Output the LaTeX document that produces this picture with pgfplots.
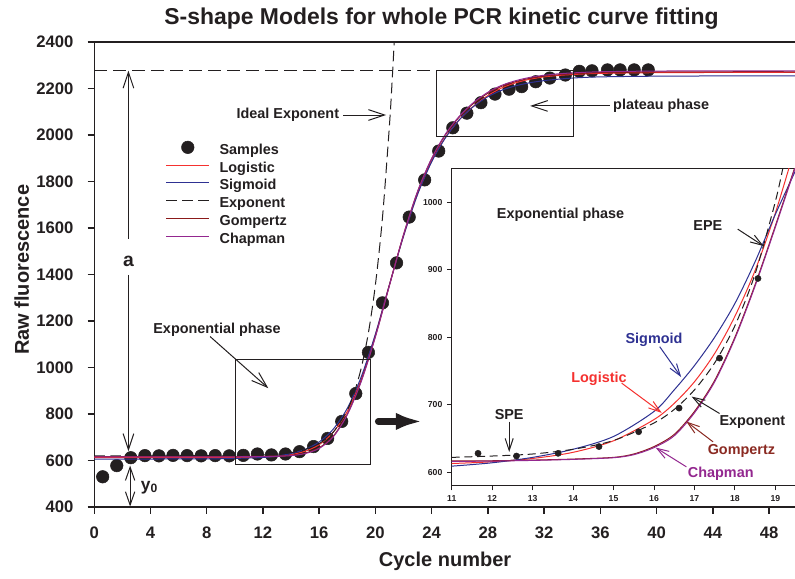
\documentclass[border=0pt]{standalone}
\usepackage{fontspec}
\setmainfont{Liberation Sans}
\usepackage{pgfplots}
\pgfplotsset{compat=1.18}
\usetikzlibrary{arrows.meta}

\definecolor{ink}{HTML}{231F20}
\definecolor{cLog}{HTML}{F5312F}
\definecolor{cSig}{HTML}{2E3192}
\definecolor{cGom}{HTML}{8B1A1A}
\definecolor{cCha}{HTML}{93278F}
\definecolor{tGom}{HTML}{8B2A22}

\tikzset{
  barb/.style={-{Straight Barb[length=12pt,width=8pt]}, line width=0.75pt},
  sbarb/.style={-{Straight Barb[length=9pt,width=6pt]}, line width=0.75pt},
  lab/.style={font=\bfseries\fontsize{10.8}{12}\selectfont, inner sep=0pt},
}

\begin{document}
\begin{tikzpicture}
\useasboundingbox (0,0) rectangle (596.25pt,433.5pt);

% ---- main panel ----
\begin{axis}[
  at={(70.7pt,53.25pt)}, anchor=south west,
  scale only axis, width=527.25pt, height=348.75pt,
  xmin=0, xmax=50, ymin=400, ymax=2400,
  xtick={0,4,...,48}, ytick={400,600,...,2400},
  tick align=outside, tick pos=left, major tick length=5pt,
  every tick/.style={ink, line width=1.1pt},
  axis line style={ink, line width=1.1pt},
  tick label style={font=\bfseries\fontsize{12.5}{14}\selectfont, text=ink},
  xticklabel style={anchor=north, inner sep=0pt, yshift=-10pt},
  yticklabel style={anchor=east, inner sep=0pt, xshift=-10.5pt},
  /pgf/number format/assume math mode=true,
  /pgf/number format/1000 sep={},
  xlabel={Cycle number}, ylabel={Raw fluorescence},
  label style={font=\bfseries\fontsize{15}{17}\selectfont, text=ink},
  xlabel style={at={(axis description cs:0.499,-0.128)}, anchor=base},
  ylabel style={at={(axis description cs:-0.1033,0.51)}, anchor=center},
  title={S-shape Models for whole PCR kinetic curve fitting},
  every axis title/.style={at={(axis description cs:0.494,1.0366)}, anchor=base,
    font=\bfseries\fontsize{17.2}{20}\selectfont, text=ink},
  clip mode=individual,
  legend cell align=left,
  legend style={at={(axis cs:5.08,1975)}, anchor=north west, draw=none, fill=none,
    inner sep=0pt, row sep=0pt, font=\bfseries\fontsize{10.8}{12}\selectfont, text=ink,
    nodes={inner sep=0pt, text height=8.3pt, text depth=5pt},
    /tikz/every odd column/.append style={column sep=7.5pt}},
  legend image code/.code={\draw[mark repeat=2,mark phase=2,#1]
    plot coordinates {(0pt,3.7pt) (16pt,3.7pt) (32pt,3.7pt)};},
]
\addplot[only marks, mark=*, mark size=4.7pt, ink] table {
x y
0.6 530
1.6 578
2.6 612
3.6 621
4.6 620
5.6 622
6.6 621
7.6 620
8.6 621
9.6 620
10.6 622
11.6 628
12.6 624
13.6 628
14.6 638
15.6 660
16.6 695
17.6 768
18.6 888
19.5 1065
20.5 1278
21.5 1450
22.4 1647
23.5 1807
24.5 1931
25.5 2031
26.5 2094
27.5 2139
28.5 2176
29.5 2197
30.4 2208
31.4 2229
32.4 2245
33.5 2258
34.5 2274
35.4 2276
36.5 2280
37.4 2280
38.4 2280
39.4 2280
};
\addlegendentry{Samples}
\addplot[cLog, line width=0.75pt, smooth] table {
x y
0 612
8 612
10 613
12 615
13 618
14 625
15 640
16 668
17 722
18 812
19 952
20 1140
21 1358
22 1568
23 1748
24 1888
25 1992
26 2068
27 2125
28 2170
29 2203
30 2225
31 2240
32 2250
33 2256
34 2260
36 2265
40 2268
45 2269
50 2269
};
\addlegendentry{Logistic}
\addplot[cSig, line width=0.75pt, smooth] table {
x y
0 606
8 607
10 609
12 613
13 619
14 630
15 648
16 680
17 735
18 825
19 962
20 1145
21 1358
22 1565
23 1745
24 1885
25 1990
26 2068
27 2124
28 2165
29 2193
30 2212
31 2225
32 2234
33 2240
34 2245
36 2250
40 2253
45 2254
50 2254
};
\addlegendentry{Sigmoid}
\addplot[ink, line width=0.75pt, dash pattern=on 8pt off 4pt, smooth] table {
x y
0 620
10 621
12 624
13 627
14 634
15 647
16 673
17 722
18 817
18.5 894
19 1001
19.5 1150
20 1358
20.5 1646
21 2047
21.2 2249
21.335 2400
};
\addlegendentry{Exponent}
\addplot[cGom, line width=0.75pt, smooth] table {
x y
0 617
8 617
10 617
12 618
13 619
14 622
15 632
16 655
17 705
18 800
19 945
20 1135
21 1355
22 1572
23 1757
24 1898
25 2003
26 2080
27 2137
28 2180
29 2210
30 2230
31 2244
32 2253
33 2259
34 2263
36 2268
40 2271
45 2272
50 2272
};
\addlegendentry{Gompertz}
\addplot[cCha, line width=0.75pt, smooth] table {
x y
0 616
8 616
10 616
12 617
13 618
14 621
15 630
16 652
17 702
18 797
19 942
20 1133
21 1354
22 1572
23 1758
24 1900
25 2006
26 2083
27 2141
28 2184
29 2214
30 2234
31 2248
32 2257
33 2263
34 2267
36 2272
40 2275
45 2276
50 2276
};
\addlegendentry{Chapman}

% annotations
\draw[ink, line width=0.75pt, dash pattern=on 9.75pt off 4.5pt] (axis cs:0,2277) -- (axis cs:24.37,2277);
\draw[ink, line width=0.75pt] (axis cs:24.37,1993) rectangle (axis cs:34.05,2277);
\draw[barb, ink] (axis cs:36.67,2125) -- (axis cs:31.0,2125);
\node[lab, text=ink, anchor=west] at (axis cs:36.89,2125) {plateau phase};
\node[lab, text=ink, anchor=east] at (axis cs:17.43,2086) {Ideal Exponent};
\draw[barb, ink] (axis cs:17.71,2086) -- (axis cs:20.75,2086);
\draw[barb, ink] (axis cs:2.43,1553) -- (axis cs:2.43,2277);
\draw[barb, ink] (axis cs:2.43,1398) -- (axis cs:2.43,640);
\node[font=\bfseries\fontsize{14.5}{16}\selectfont, text=ink, inner sep=0pt] at (axis cs:2.43,1455) {a};
\draw[ink, line width=0.75pt, {Straight Barb[length=10pt,width=7pt]}-{Straight Barb[length=10pt,width=7pt]}] (axis cs:2.55,578) -- (axis cs:2.55,402);
\node[font=\bfseries\fontsize{13}{15}\selectfont, text=ink, inner sep=0pt, anchor=base west] at (axis cs:3.3,473) {y\textsubscript{0}};
\draw[ink, line width=0.75pt] (axis cs:10.05,584) rectangle (axis cs:19.68,1036);
\node[lab, text=ink] at (axis cs:8.73,1162) {Exponential phase};
\draw[barb, ink] (axis cs:8.24,1133) -- (axis cs:12.38,911);
\draw[ink, line width=5pt, line cap=round, -{Latex[length=20pt,width=13pt]}] (axis cs:20.2,768) -- (axis cs:23.35,768);
\end{axis}

% ---- inset: exponential phase ----
\begin{axis}[
  at={(338.8pt,69.2pt)}, anchor=south west,
  scale only axis, width=258.5pt, height=238pt,
  xmin=11, xmax=19.52, ymin=580, ymax=1050,
  xtick={11,...,19}, ytick={600,700,...,1000},
  tick align=outside, tick pos=left, major tick length=3.5pt,
  axis background/.style={fill=white},
  axis line style={ink, line width=0.75pt},
  every tick/.style={ink, line width=0.75pt},
  tick label style={font=\bfseries\fontsize{6.5}{7}\selectfont, text=ink},
  /pgf/number format/assume math mode=true,
  /pgf/number format/1000 sep={},
  clip mode=individual,
]
\addplot[cLog, line width=0.75pt, smooth] table {
x y
11 612.9
12 615.5
13 620.4
14 629.5
15 646.6
16 678
16.5 702
17 734
17.5 776
18 831
18.5 899
19 984
19.5 1084
};
\addplot[cSig, line width=0.75pt, smooth] table {
x y
11 609
12 614
13 622
14 634
15 653
16 690
16.5 722
17 758
17.5 800
18 850
18.5 912
19 982
19.5 1047
};
\addplot[ink, line width=0.75pt, dash pattern=on 6pt off 3.5pt, smooth] table {
x y
11 622
12 624
13 627
14 634
15 647
16 673
16.5 693
17 722
17.5 762
18 817
18.5 894
19 1001
19.2 1055
};
\addplot[cGom, line width=0.75pt, smooth] table {
x y
11 617
12 617
13 618
14 619.5
15 622
15.5 627
16 638
16.5 656
17 690
17.5 736
18 800
18.5 878
19 965
19.5 1055
};
\addplot[cCha, line width=0.75pt, smooth] table {
x y
11 616
12 616.5
13 617.5
14 619
15 621.5
15.5 626
16 636.5
16.5 654
17 688
17.5 734
18 798
18.5 876
19 963
19.5 1053
};
\addplot[only marks, mark=*, mark size=2.3pt, ink] table {
x y
11.65 628
12.6 624
13.63 628
14.64 638
15.62 660
16.62 695
17.62 769
18.57 887
};

\node[lab, text=ink] at (axis cs:13.69,982) {Exponential phase};
\node[lab, text=ink] at (axis cs:17.33,965) {EPE};
\draw[sbarb, ink] (axis cs:18.07,960) -- (axis cs:18.71,935);
\node[lab, text=cSig] at (axis cs:16.0,796) {Sigmoid};
\draw[sbarb, cSig] (axis cs:16.14,786) -- (axis cs:16.67,741);
\node[lab, text=cLog] at (axis cs:14.64,738) {Logistic};
\draw[sbarb, cLog] (axis cs:15.2,732) -- (axis cs:16.19,688);
\node[lab, text=ink] at (axis cs:18.43,675) {Exponent};
\draw[sbarb, ink] (axis cs:17.62,687) -- (axis cs:16.93,712);
\node[lab, text=tGom] at (axis cs:18.16,631.6) {Gompertz};
\draw[sbarb, tGom] (axis cs:17.46,645) -- (axis cs:16.80,675);
\node[lab, text=cCha] at (axis cs:17.65,597.5) {Chapman};
\draw[sbarb, cCha] (axis cs:16.80,608) -- (axis cs:16.04,636.5);
\node[lab, text=ink] at (axis cs:12.42,685) {SPE};
\draw[sbarb, ink] (axis cs:12.42,675) -- (axis cs:12.42,630);
\end{axis}
\end{tikzpicture}
\end{document}
